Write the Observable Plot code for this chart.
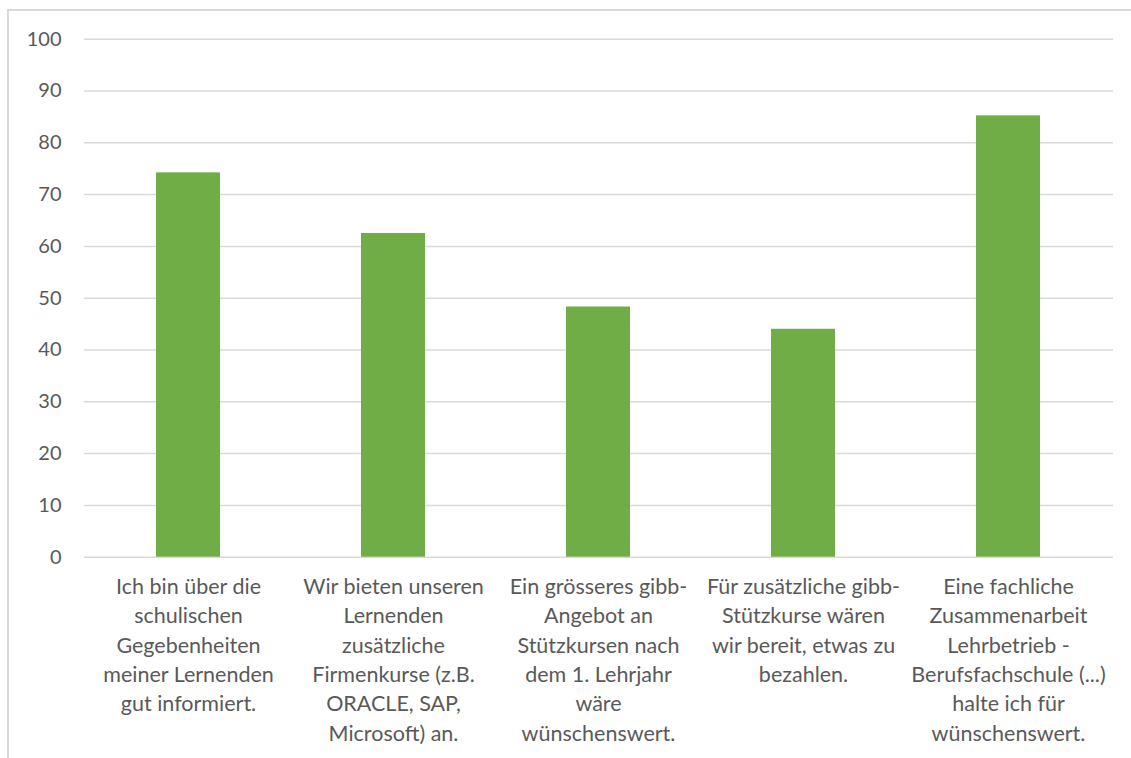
<!DOCTYPE html>
<html>
<head>
<meta charset="utf-8">
<script src="https://cdn.jsdelivr.net/npm/d3@7"></script>
<script src="https://cdn.jsdelivr.net/npm/@observablehq/plot@0.6"></script>
<style>
  html, body { margin: 0; padding: 0; background: #fff; }
  #wrap { position: relative; width: 1131px; height: 758px; overflow: hidden; }
  #frame { position: absolute; left: 7px; top: 9px; width: 1200px; height: 800px;
           border-left: 2px solid #d9d9d9; border-top: 2px solid #d9d9d9; box-sizing: border-box; }
  #chart { position: absolute; left: 0; top: 0; }
</style>
</head>
<body>
<div id="wrap"><div id="frame"></div><div id="chart"></div></div>
<script>
const categories = [
  "Ich bin über die schulischen Gegebenheiten meiner Lernenden gut informiert.",
  "Wir bieten unseren Lernenden zusätzliche Firmenkurse (z.B. ORACLE, SAP, Microsoft) an.",
  "Ein grösseres gibb-Angebot an Stützkursen nach dem 1. Lehrjahr wäre wünschenswert.",
  "Für zusätzliche gibb-Stützkurse wären wir bereit, etwas zu bezahlen.",
  "Eine fachliche Zusammenarbeit Lehrbetrieb - Berufsfachschule (...) halte ich für wünschenswert."
];
const tickLabels = [
  "Ich bin über die\nschulischen\nGegebenheiten\nmeiner Lernenden\ngut informiert.",
  "Wir bieten unseren\nLernenden\nzusätzliche\nFirmenkurse (z.B.\nORACLE, SAP,\nMicrosoft) an.",
  "Ein grösseres gibb-\nAngebot an\nStützkursen nach\ndem 1. Lehrjahr\nwäre\nwünschenswert.",
  "Für zusätzliche gibb-\nStützkurse wären\nwir bereit, etwas zu\nbezahlen.",
  "Eine fachliche\nZusammenarbeit\nLehrbetrieb -\nBerufsfachschule (...)\nhalte ich für\nwünschenswert."
];
const values = [74.2, 62.5, 48.3, 44.0, 85.2];
const yTicks = [0, 10, 20, 30, 40, 50, 60, 70, 80, 90, 100];

const data = categories.map((c, i) => ({category: c, label: tickLabels[i], value: values[i]}));

const font = "Lato, 'Open Sans', sans-serif";
const chart = Plot.plot({
  width: 1131,
  height: 758,
  marginLeft: 84,
  marginRight: 18,
  marginTop: 38.7,
  marginBottom: 201.3,
  style: {fontFamily: font, fontSize: "20px", color: "#595959", background: "transparent"},
  x: {domain: categories, paddingInner: 0.687, paddingOuter: 0.3435, axis: null},
  y: {domain: [0, 100], axis: null},
  marks: [
    Plot.gridY(yTicks, {stroke: "#d9d9d9", strokeOpacity: 1, strokeWidth: 1.5}),
    Plot.barY(data, {x: "category", y: "value", fill: "#70AD47"}),
    Plot.axisY(yTicks, {tickSize: 0, tickPadding: 23, fontSize: 20, fill: "#595959", label: null, tickFormat: d => String(d)}),
    Plot.text(data, {x: "category", y: 0, text: "label", lineAnchor: "top", dy: 16,
                     lineHeight: 1.363, fontSize: 21.5, fill: "#595959"})
  ]
});
document.getElementById("chart").appendChild(chart);
</script>
</body>
</html>
